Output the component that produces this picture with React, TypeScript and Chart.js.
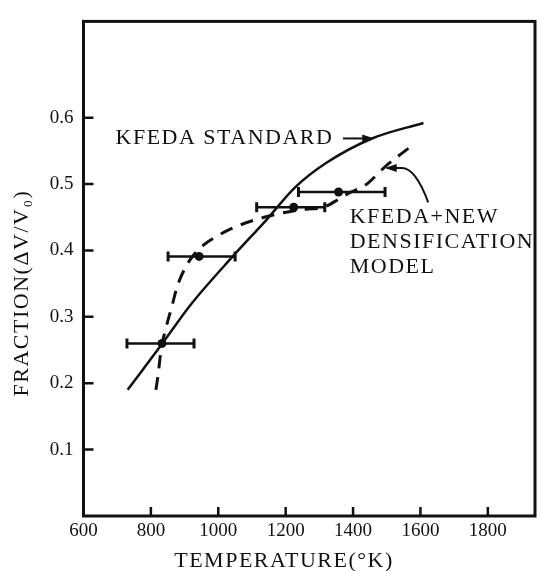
import React, { useEffect, useRef } from "react";
import { Chart, registerables } from "chart.js";

Chart.register(...registerables);

// Axis ticks
const xTickValues = [600, 800, 1000, 1200, 1400, 1600, 1800];
const yTickValues = [0.1, 0.2, 0.3, 0.4, 0.5, 0.6];

// KFEDA STANDARD (solid curve)
const standardT = [731, 834, 921, 1043, 1141, 1228, 1321, 1458, 1609];
const standardF = [0.19, 0.26, 0.32, 0.391, 0.445, 0.495, 0.532, 0.569, 0.592];

// KFEDA + NEW DENSIFICATION MODEL (dashed curve)
const densT = [815, 822, 830, 843, 862, 877, 900, 925, 956, 994, 1063, 1136, 1206, 1260, 1312, 1360, 1390, 1438, 1497, 1570];
const densF = [0.19, 0.215, 0.25, 0.28, 0.315, 0.344, 0.372, 0.392, 0.408, 0.421, 0.438, 0.45, 0.458, 0.462, 0.465, 0.478, 0.487, 0.499, 0.527, 0.556];

// Measured points with horizontal error bars
const barT = [833, 943, 1224, 1357];
const barF = [0.26, 0.391, 0.465, 0.488];
const barLo = [729, 851, 1114, 1238];
const barHi = [928, 1050, 1316, 1495];

// Annotation texts
const label1 = "KFEDA STANDARD";
const label2Lines = ["KFEDA+NEW", "DENSIFICATION", "MODEL"];
const xTitle = "TEMPERATURE(\u00B0K)";
const yTitle = "FRACTION(\u0394V/V\u2080)";

const INK = "#111";
const FONT = '"Liberation Serif", "DejaVu Serif", serif';

function arrowHead(ctx: CanvasRenderingContext2D, fx: number, fy: number, tx: number, ty: number, len: number, half: number) {
  const ang = Math.atan2(ty - fy, tx - fx);
  ctx.beginPath();
  ctx.moveTo(tx, ty);
  ctx.lineTo(tx - len * Math.cos(ang) + half * Math.sin(ang), ty - len * Math.sin(ang) - half * Math.cos(ang));
  ctx.lineTo(tx - len * Math.cos(ang) - half * Math.sin(ang), ty - len * Math.sin(ang) + half * Math.cos(ang));
  ctx.closePath();
  ctx.fill();
}

const decorPlugin = {
  id: "decor",
  afterDraw(chart: any) {
    const { ctx, chartArea: a, scales } = chart;
    const X = (v: number) => scales.x.getPixelForValue(v);
    const Y = (v: number) => scales.y.getPixelForValue(v);
    ctx.save();
    ctx.strokeStyle = INK;
    ctx.fillStyle = INK;
    // frame
    ctx.lineWidth = 3;
    ctx.strokeRect(a.left, a.top, a.right - a.left, a.bottom - a.top);
    // inward tick marks
    ctx.lineWidth = 2.5;
    ctx.beginPath();
    for (const v of yTickValues) {
      const y = Y(v);
      ctx.moveTo(a.left, y);
      ctx.lineTo(a.left + 10, y);
    }
    for (const v of xTickValues) {
      if (v <= scales.x.min) continue;
      const x = X(v);
      ctx.moveTo(x, a.bottom);
      ctx.lineTo(x, a.bottom - 9);
    }
    ctx.stroke();

    // annotations
    ctx.font = "22px " + FONT;
    (ctx as any).letterSpacing = "1.5px";
    ctx.textAlign = "left";
    ctx.textBaseline = "middle";
    ctx.fillText(label1, X(695), Y(0.5687));
    // arrow 1
    ctx.lineWidth = 2;
    ctx.beginPath();
    ctx.moveTo(X(1370), Y(0.5687));
    ctx.lineTo(X(1452), Y(0.5687));
    ctx.stroke();
    arrowHead(ctx, X(1370), Y(0.5687), X(1463), Y(0.5687), 12, 4);

    ctx.textBaseline = "alphabetic";
    const baseF = [0.441, 0.404, 0.3665];
    label2Lines.forEach((t, i) => ctx.fillText(t, X(1390), Y(baseF[i])));
    // arrow 2 (hooked)
    ctx.beginPath();
    ctx.moveTo(X(1623), Y(0.4725));
    ctx.quadraticCurveTo(X(1585), Y(0.524), X(1545), Y(0.524));
    ctx.lineTo(X(1515), Y(0.524));
    ctx.stroke();
    arrowHead(ctx, X(1545), Y(0.524), X(1494), Y(0.524), 12, 4);

    // axis titles
    ctx.textAlign = "center";
    ctx.textBaseline = "middle";
    ctx.fillText(xTitle, 284, 561);
    ctx.translate(22.5, 293);
    ctx.rotate(-Math.PI / 2);
    ctx.fillText(yTitle, 0, 0);
    ctx.restore();
  },
};

export default function App() {
  const ref = useRef<HTMLCanvasElement | null>(null);
  useEffect(() => {
    document.body.style.margin = "0";
    const canvas = ref.current;
    if (!canvas) return;
    const datasets: any[] = [
      {
        data: standardT.map((t, i) => ({ x: t, y: standardF[i] })),
        showLine: true,
        borderColor: INK,
        borderWidth: 2.5,
        pointRadius: 0,
        cubicInterpolationMode: "monotone",
      },
      {
        data: densT.map((t, i) => ({ x: t, y: densF[i] })),
        showLine: true,
        borderColor: INK,
        borderWidth: 3,
        borderDash: [13, 9],
        pointRadius: 0,
        cubicInterpolationMode: "monotone",
      },
      ...barT.map((_, i) => ({
        data: [
          { x: barLo[i], y: barF[i] },
          { x: barHi[i], y: barF[i] },
        ],
        showLine: true,
        borderColor: INK,
        borderWidth: 2.5,
        pointStyle: "line",
        pointRadius: 5,
        pointRotation: 90,
        pointBorderWidth: 3,
        pointBorderColor: INK,
      })),
      {
        data: barT.map((t, i) => ({ x: t, y: barF[i] })),
        showLine: false,
        pointRadius: 4.5,
        pointBackgroundColor: INK,
        pointBorderWidth: 0,
      },
    ];
    const tickFont = { family: FONT, size: 19 };
    const chart = new Chart(canvas, {
      type: "scatter",
      data: { datasets },
      options: {
        animation: false,
        responsive: false,
        devicePixelRatio: 1,
        layout: { padding: { top: 12.5, right: 1.5, left: 0, bottom: 0 } },
        plugins: { legend: { display: false }, tooltip: { enabled: false } },
        scales: {
          x: {
            type: "linear",
            min: 600,
            max: 1940,
            afterFit: (s: any) => {
              s.height = 55;
            },
            afterBuildTicks: (s: any) => {
              s.ticks = xTickValues.map((v) => ({ value: v }));
            },
            grid: { display: false, drawTicks: false },
            border: { display: false },
            ticks: {
              color: INK,
              font: tickFont,
              padding: 4,
              maxRotation: 0,
              autoSkip: false,
              callback: (v: any) => String(v),
            },
          },
          y: {
            type: "linear",
            min: 0,
            max: 0.745,
            afterFit: (s: any) => {
              s.width = 83.5;
            },
            afterBuildTicks: (s: any) => {
              s.ticks = yTickValues.map((v) => ({ value: v }));
            },
            grid: { display: false, drawTicks: false },
            border: { display: false },
            ticks: {
              color: INK,
              font: tickFont,
              padding: 10,
              autoSkip: false,
              callback: (v: any) => Number(v).toFixed(1),
            },
          },
        },
      } as any,
      plugins: [decorPlugin],
    });
    return () => chart.destroy();
  }, []);
  return (
    <div style={{ width: 543, height: 571, background: "#fff" }}>
      <canvas ref={ref} width={543} height={571} style={{ display: "block" }} />
    </div>
  );
}
